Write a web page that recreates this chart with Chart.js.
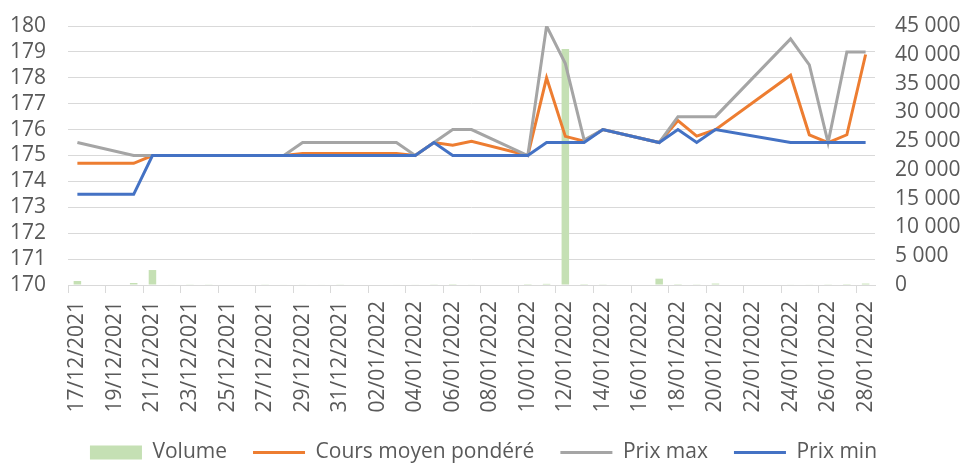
<!DOCTYPE html>
<html>
<head>
<meta charset="utf-8">
<script src="https://cdn.jsdelivr.net/npm/chart.js@4/dist/chart.umd.min.js"></script>
<style>
  html, body { margin: 0; padding: 0; background: #fff; }
  #wrap { width: 967px; height: 464px; position: relative; }
</style>
</head>
<body>
<div id="wrap"><canvas id="chart"></canvas></div>
<script>
// one slot per calendar day, null = no trading that day
const dates = [
  '17/12/2021','18/12/2021','19/12/2021','20/12/2021','21/12/2021','22/12/2021','23/12/2021',
  '24/12/2021','25/12/2021','26/12/2021','27/12/2021','28/12/2021','29/12/2021','30/12/2021',
  '31/12/2021','01/01/2022','02/01/2022','03/01/2022','04/01/2022','05/01/2022','06/01/2022',
  '07/01/2022','08/01/2022','09/01/2022','10/01/2022','11/01/2022','12/01/2022','13/01/2022',
  '14/01/2022','15/01/2022','16/01/2022','17/01/2022','18/01/2022','19/01/2022','20/01/2022',
  '21/01/2022','22/01/2022','23/01/2022','24/01/2022','25/01/2022','26/01/2022','27/01/2022',
  '28/01/2022'
];
const volume = [
  700, null, null, 350, 2600, 80, 60,
  60, null, null, 60, 80, 100, 80,
  60, null, null, 80, 100, 120, 150,
  100, null, null, 150, 200, 41000, 150,
  120, null, null, 1100, 150, 120, 250,
  null, null, null, 100, 100, 120, 150,
  250
];
const coursMoyen = [
  174.7, null, null, 174.7, 175, 175, 175,
  175, null, null, 175, 175, 175.08, 175.08,
  175.08, null, null, 175.08, 175, 175.5, 175.4,
  175.55, null, null, 175, 178, 175.74, 175.55,
  176, null, null, 175.5, 176.35, 175.75, 176,
  null, null, null, 178.1, 175.8, 175.5, 175.8,
  178.9
];
const prixMax = [
  175.5, null, null, 175, 175, 175, 175,
  175, null, null, 175, 175, 175.5, 175.5,
  175.5, null, null, 175.5, 175, 175.5, 176,
  176, null, null, 175, 180, 178.55, 175.6,
  176, null, null, 175.5, 176.5, 176.5, 176.5,
  null, null, null, 179.5, 178.5, 175.5, 179,
  179
];
const prixMin = [
  173.5, null, null, 173.5, 175, 175, 175,
  175, null, null, 175, 175, 175, 175,
  175, null, null, 175, 175, 175.5, 175,
  175, null, null, 175, 175.5, 175.5, 175.5,
  176, null, null, 175.5, 176, 175.5, 176,
  null, null, null, 175.5, 175.5, 175.5, 175.5,
  175.5
];
const leftTicks = [170, 180, 1];
const rightTicks = [0, 45000, 5000];

const textColor = '#595959';
const gridColor = '#D9D9D9';
const fontFamily = '"Open Sans", "Noto Sans", sans-serif';

new Chart(document.getElementById('chart'), {
  type: 'bar',
  data: {
    labels: dates,
    datasets: [
      {
        label: 'Volume',
        data: volume,
        yAxisID: 'y2',
        backgroundColor: '#C5E0B4',
        barPercentage: 0.4,
        categoryPercentage: 1,
        pointStyle: 'rect',
        order: 2
      },
      {
        type: 'line',
        label: 'Cours moyen pondéré',
        data: coursMoyen,
        yAxisID: 'y',
        borderColor: '#ED7D31',
        backgroundColor: '#ED7D31',
        borderWidth: 3,
        pointRadius: 0,
        spanGaps: true,
        tension: 0,
        pointStyle: 'line',
        order: 1
      },
      {
        type: 'line',
        label: 'Prix max',
        data: prixMax,
        yAxisID: 'y',
        borderColor: '#A5A5A5',
        backgroundColor: '#A5A5A5',
        borderWidth: 3,
        pointRadius: 0,
        spanGaps: true,
        tension: 0,
        pointStyle: 'line',
        order: 0
      },
      {
        type: 'line',
        label: 'Prix min',
        data: prixMin,
        yAxisID: 'y',
        borderColor: '#4472C4',
        backgroundColor: '#4472C4',
        borderWidth: 3,
        pointRadius: 0,
        spanGaps: true,
        tension: 0,
        pointStyle: 'line',
        order: -1
      }
    ]
  },
  options: {
    responsive: true,
    maintainAspectRatio: false,
    animation: false,
    layout: { padding: { top: 26, bottom: -9 } },
    plugins: {
      tooltip: { enabled: false },
      legend: {
        position: 'bottom',
        labels: {
          usePointStyle: true,
          pointStyleWidth: 52,
          boxHeight: 14,
          padding: 26,
          color: textColor,
          font: { family: fontFamily, size: 21 },
          sort: (a, b) => a.datasetIndex - b.datasetIndex
        }
      }
    },
    scales: {
      x: {
        offset: true,
        grid: {
          offset: true,
          drawOnChartArea: false,
          tickLength: 8,
          color: ctx => (ctx.index % 2 === 0 ? gridColor : 'rgba(0,0,0,0)')
        },
        border: { color: gridColor },
        ticks: {
          autoSkip: false,
          maxRotation: 90,
          minRotation: 90,
          padding: 8,
          color: textColor,
          font: { family: fontFamily, size: 21 },
          callback: (v, i) => (i % 2 === 0 ? dates[i] : '')
        },
        afterFit: s => { s.height = 131; }
      },
      y: {
        position: 'left',
        min: leftTicks[0],
        max: leftTicks[1],
        ticks: {
          stepSize: leftTicks[2],
          autoSkip: false,
          padding: 22,
          color: textColor,
          font: { family: fontFamily, size: 21 }
        },
        grid: { color: gridColor, drawTicks: false },
        border: { display: false },
        afterFit: s => { s.width = 68; s.paddingTop = 0; s.paddingBottom = 0; }
      },
      y2: {
        position: 'right',
        min: rightTicks[0],
        max: rightTicks[1],
        ticks: {
          stepSize: rightTicks[2],
          autoSkip: false,
          padding: 20,
          color: textColor,
          font: { family: fontFamily, size: 21 },
          callback: v => String(v).replace(/\B(?=(\d{3})+(?!\d))/g, ' ')
        },
        grid: { drawOnChartArea: false, drawTicks: false },
        border: { display: false },
        afterFit: s => { s.width = 92; s.paddingTop = 0; s.paddingBottom = 0; }
      }
    }
  }
});
</script>
</body>
</html>
